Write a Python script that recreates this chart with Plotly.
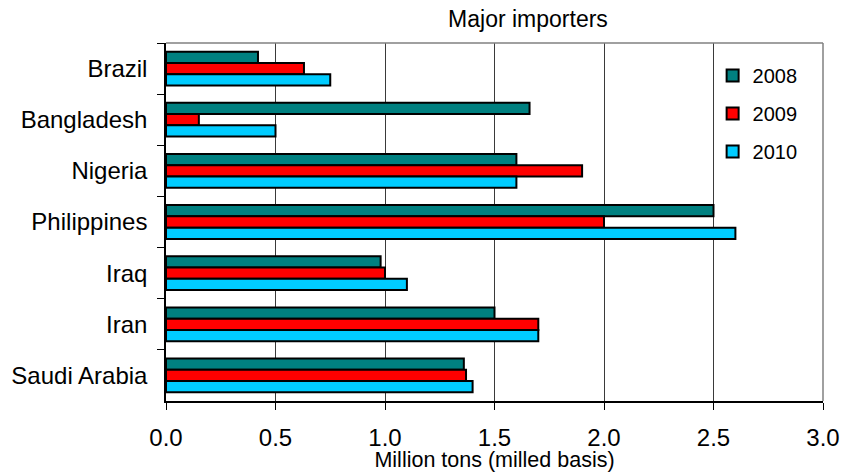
import plotly.graph_objects as go

countries = ["Brazil", "Bangladesh", "Nigeria", "Philippines", "Iraq", "Iran", "Saudi Arabia"]
years = ["2008", "2009", "2010"]
imports_2008 = [0.42, 1.66, 1.60, 2.50, 0.98, 1.50, 1.36]
imports_2009 = [0.63, 0.15, 1.90, 2.00, 1.00, 1.70, 1.37]
imports_2010 = [0.75, 0.50, 1.60, 2.60, 1.10, 1.70, 1.40]
x_ticks = [0.0, 0.5, 1.0, 1.5, 2.0, 2.5, 3.0]

colors = ["#008080", "#FF0000", "#00CCFF"]
series = [imports_2008, imports_2009, imports_2010]

fig = go.Figure()
for yr, vals, col in zip(years, series, colors):
    fig.add_trace(go.Bar(
        y=countries, x=vals, name=yr, orientation="h",
        marker=dict(color=col, line=dict(color="black", width=2)),
        legendgroup=yr,
    ))

font = "Liberation Sans, Arial, sans-serif"
fig.update_layout(
    width=841, height=472,
    margin=dict(l=166, r=18, t=43, b=71),
    paper_bgcolor="white", plot_bgcolor="white",
    barmode="group", bargap=0.34, bargroupgap=0,
    font=dict(family=font, size=21, color="black"),
    title=dict(text="Major importers", x=0.551, xanchor="center", xref="paper",
               y=0.96, yanchor="middle", font=dict(size=23)),
    showlegend=True,
    legend=dict(x=0.832, y=0.964, xanchor="left", yanchor="top",
                bgcolor="rgba(0,0,0,0)", traceorder="grouped",
                tracegroupgap=9, itemwidth=30, font=dict(size=20)),
    xaxis=dict(range=[0, 3.0], tickvals=x_ticks,
               ticktext=[f"{v:.1f}" for v in x_ticks],
               showgrid=True, gridcolor="#3a3a3a", gridwidth=1,
               showline=True, linecolor="black", linewidth=1.5,
               ticks="outside", ticklen=7, tickcolor="black",
               zeroline=False, tickfont=dict(size=24), automargin=False,
               ticklabelstandoff=7,
               title=dict(text="Million tons (milled basis)", font=dict(size=21.5), standoff=2)),
    yaxis=dict(autorange="reversed", showline=True, linecolor="black", linewidth=1.5,
               ticks="outside", ticklen=7, tickson="boundaries", tickcolor="black",
               showgrid=False, tickfont=dict(size=24), automargin=False,
               ticklabelstandoff=12),
)
# gray frame on the top and right of the plot area
fig.add_shape(type="line", xref="paper", yref="paper", x0=0, x1=1, y0=1, y1=1,
              line=dict(color="#808080", width=1.5))
fig.add_shape(type="line", xref="paper", yref="paper", x0=1, x1=1, y0=0, y1=1,
              line=dict(color="#808080", width=1.5))

fig.write_html("out.html")
